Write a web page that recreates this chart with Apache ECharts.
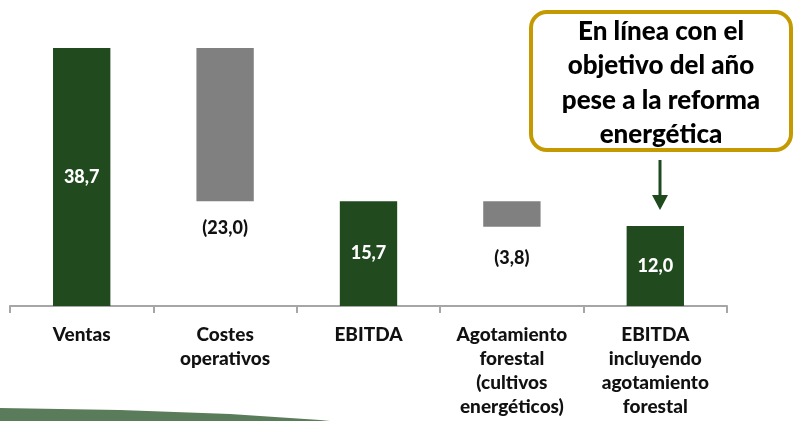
<!DOCTYPE html>
<html>
<head>
<meta charset="utf-8">
<script src="https://cdn.jsdelivr.net/npm/echarts@6/dist/echarts.min.js"></script>
<style>
  html, body { margin: 0; padding: 0; background: #fff; }
  #main { width: 794px; height: 421px; }
</style>
</head>
<body>
<div id="main"></div>
<script>
// datos de la cascada
var categories = ['Ventas', 'Costes\noperativos', 'EBITDA', 'Agotamiento\nforestal\n(cultivos\nenergéticos)', 'EBITDA\nincluyendo\nagotamiento\nforestal'];
var values = [38.7, -23.0, 15.7, -3.8, 12.0];
var isTotal = [true, false, true, false, true];

var GREEN = '#214a1e', GREY = '#808080';
var FONT = 'Lato';
var WEIGHT = 900;

// base invisible + barra visible
var base = [], bars = [], running = 0;
values.forEach(function (v, i) {
  if (isTotal[i]) {
    running = v;
    base.push(0);
    bars.push({
      value: v,
      itemStyle: { color: GREEN },
      label: { show: true, position: 'inside', color: '#fff' }
    });
  } else {
    var top = running;
    running = running + v;
    base.push(Math.min(top, running));
    bars.push({
      value: Math.abs(v),
      itemStyle: { color: GREY },
      label: { show: true, position: 'bottom', distance: i === 1 ? 18 : 23, color: '#111' }
    });
  }
});

function fmt(i) {
  var s = Math.abs(values[i]).toFixed(1).replace('.', ',');
  return values[i] < 0 ? '(' + s + ')' : s;
}

var chart = echarts.init(document.getElementById('main'));
chart.setOption({
  backgroundColor: '#fff',
  animation: false,
  grid: { left: 10, right: 67, top: 6, bottom: 115 },
  xAxis: {
    type: 'category',
    data: categories,
    axisLine: { lineStyle: { color: '#a6a6a6', width: 2 } },
    axisTick: { show: true, length: 7, lineStyle: { color: '#a6a6a6', width: 2 } },
    axisLabel: {
      interval: 0, color: '#111', fontFamily: FONT, fontWeight: WEIGHT,
      fontSize: 19, lineHeight: 24, margin: 17
    }
  },
  yAxis: { type: 'value', min: 0, max: 45, show: false, splitLine: { show: false } },
  series: [
    {
      type: 'bar', stack: 'w', barWidth: '40%',
      itemStyle: { color: 'transparent' },
      data: base, silent: true
    },
    {
      type: 'bar', stack: 'w', barWidth: '40%',
      label: {
        fontFamily: FONT, fontWeight: WEIGHT, fontSize: 18,
        formatter: function (p) { return fmt(p.dataIndex); }
      },
      data: bars
    }
  ],
  graphic: [
    // franja decorativa abajo a la izquierda
    {
      type: 'polygon',
      shape: { points: [[0, 408], [120, 410], [230, 414], [320, 420], [330, 421], [0, 421]] },
      style: { fill: '#5b7c5b' }
    },
    // caja del comentario
    {
      type: 'rect',
      shape: { x: 531, y: 12, width: 260, height: 138, r: 16 },
      style: { fill: '#fff', stroke: '#c49a00', lineWidth: 4 }
    },
    {
      type: 'text',
      x: 661, y: 83,
      style: {
        text: 'En línea con el\nobjetivo del año\npese a la reforma\nenergética',
        fontFamily: FONT, fontWeight: WEIGHT, fontSize: 26, lineHeight: 34.5,
        fill: '#000', align: 'center', verticalAlign: 'middle'
      }
    },
    // flecha
    {
      type: 'line',
      shape: { x1: 660, y1: 160, x2: 660, y2: 198 },
      style: { stroke: '#1f4a1e', lineWidth: 3 }
    },
    {
      type: 'polygon',
      shape: { points: [[652, 195], [668, 195], [660, 210]] },
      style: { fill: '#1f4a1e' }
    }
  ]
});
</script>
</body>
</html>
